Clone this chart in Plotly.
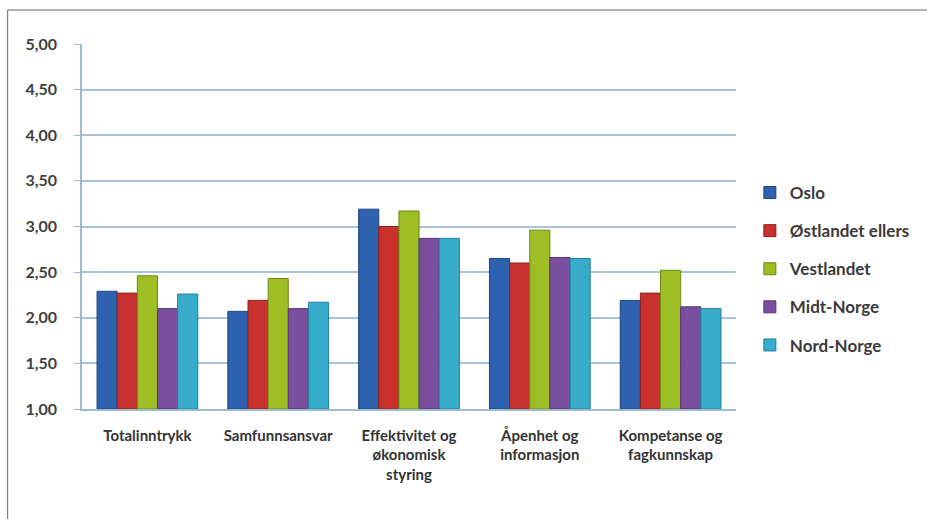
import plotly.graph_objects as go

categories = ["Totalinntrykk", "Samfunnsansvar", "Effektivitet og<br>økonomisk<br>styring",
              "Åpenhet og<br>informasjon", "Kompetanse og<br>fagkunnskap"]
series_names = ["Oslo", "Østlandet ellers", "Vestlandet", "Midt-Norge", "Nord-Norge"]
oslo = [2.29, 2.07, 3.19, 2.65, 2.19]
ostlandet = [2.27, 2.19, 3.00, 2.60, 2.27]
vestlandet = [2.46, 2.43, 3.17, 2.96, 2.52]
midt = [2.10, 2.10, 2.87, 2.66, 2.12]
nord = [2.26, 2.17, 2.87, 2.65, 2.10]
y_ticks = [1.0, 1.5, 2.0, 2.5, 3.0, 3.5, 4.0, 4.5, 5.0]

colors = ["#2F62AE", "#C8312D", "#9DBE24", "#7B4F9F", "#38ACCB"]
edges = ["#1F4680", "#8E1F1C", "#6E8A14", "#553570", "#217E98"]
values = [oslo, ostlandet, vestlandet, midt, nord]

fig = go.Figure()
for i, (name, vals) in enumerate(zip(series_names, values)):
    fig.add_trace(go.Bar(
        x=categories, y=[v - 1.0 for v in vals], base=1.0, name=name,
        legendgroup=name,
        marker=dict(color=colors[i], line=dict(color=edges[i], width=1)),
    ))

W, H = 927, 519
L, R, T, B = 82, 185, 44, 110
pw, ph = W - L - R, H - T - B

fig.update_layout(
    width=W, height=H,
    margin=dict(l=L, r=R, t=T, b=B),
    paper_bgcolor="white", plot_bgcolor="white",
    barmode="group", bargap=0.23, bargroupgap=0,
    separators=", ",
    font=dict(family="Lato, Arial, sans-serif", color="#404040", size=14, weight=700),
    showlegend=True,
    legend=dict(x=(756 - L) / pw, y=(409 - 269) / ph, xanchor="left", yanchor="middle",
                font=dict(size=17, color="#3A3A3A", weight=700), tracegroupgap=13,
                bgcolor="rgba(0,0,0,0)", itemwidth=30),
    xaxis=dict(showline=True, linecolor="#9DBBD0", linewidth=1.5, ticks="",
               ticklabelstandoff=12,
               tickfont=dict(size=15, color="#333333", weight=700), showgrid=False),
    yaxis=dict(range=[1.0, 5.0], tickvals=y_ticks, tickformat=".2f",
               showgrid=True, gridcolor="#A9C4D6", gridwidth=1.5,
               showline=True, linecolor="#9DBBD0", linewidth=1.5,
               ticks="outside", ticklen=6, tickcolor="#9DBBD0",
               ticklabelstandoff=14,
               tickfont=dict(size=16, color="#404040", weight=700), zeroline=False),
    shapes=[
        dict(type="line", xref="paper", yref="paper",
             x0=(7 - L) / pw, x1=2.0, y0=1 + (T - 10) / ph, y1=1 + (T - 10) / ph,
             line=dict(color="#666666", width=1)),
        dict(type="line", xref="paper", yref="paper",
             x0=(7 - L) / pw, x1=(7 - L) / pw, y0=1 + (T - 10) / ph, y1=-1.0,
             line=dict(color="#666666", width=1)),
    ],
)

fig.write_html("out.html")
